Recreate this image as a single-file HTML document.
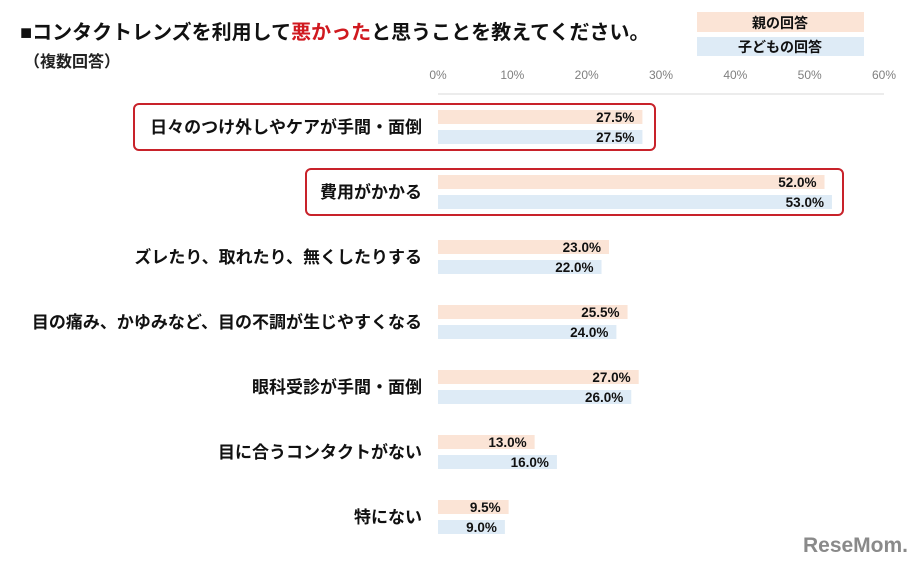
<!DOCTYPE html>
<html><head><meta charset="utf-8"><style>
body{margin:0;background:#fff;}
svg{display:block;font-family:"Liberation Sans","Noto Sans CJK JP",sans-serif;}
</style></head><body>
<svg id="chart" width="924" height="565">
<rect x="0" y="0" width="924" height="565" fill="#fff"/>
<text x="20" y="39" font-size="20" font-weight="bold" fill="#111">■コンタクトレンズを利用して<tspan fill="#d0191f">悪かった</tspan>と思うことを教えてください。</text>
<text x="24" y="67" font-size="16" font-weight="bold" fill="#222">（複数回答）</text>
<g>
<rect x="697" y="12" width="167" height="20" fill="#fbe4d6"/>
<text x="780" y="28" font-size="14" font-weight="bold" text-anchor="middle" fill="#111">親の回答</text>
<rect x="697" y="37" width="167" height="19" fill="#deebf6"/>
<text x="780" y="52" font-size="14" font-weight="bold" text-anchor="middle" fill="#111">子どもの回答</text>
</g>
<line x1="438" y1="94" x2="884" y2="94" stroke="#d9d9d9"/>
<g id="ticks"></g>
<g id="bars"></g>
<rect x="134" y="104" width="521" height="46" rx="5" fill="none" stroke="#c8222a" stroke-width="2"/>
<rect x="306" y="169" width="537" height="46" rx="5" fill="none" stroke="#c8222a" stroke-width="2"/>
<text x="908" y="552" font-size="21" font-weight="bold" text-anchor="end" fill="#8a8a8a">ReseMom.</text>
</svg>
<script>
const categories=["日々のつけ外しやケアが手間・面倒","費用がかかる","ズレたり、取れたり、無くしたりする","目の痛み、かゆみなど、目の不調が生じやすくなる","眼科受診が手間・面倒","目に合うコンタクトがない","特にない"];
const parentValues=[27.5,52.0,23.0,25.5,27.0,13.0,9.5];
const childValues=[27.5,53.0,22.0,24.0,26.0,16.0,9.0];
const tickValues=[0,10,20,30,40,50,60];
const NS="http://www.w3.org/2000/svg";
const x0=438,x1=884,maxV=60;
function xs(v){return x0+(x1-x0)*v/maxV;}
function rowY(i){return 127+65*i;}
function mk(tag,attrs,parent){const e=document.createElementNS(NS,tag);for(const k in attrs)e.setAttribute(k,attrs[k]);parent.appendChild(e);return e;}
const tg=document.getElementById('ticks');
tickValues.forEach(v=>{
 const t=mk('text',{x:xs(v),y:79,'font-size':12,'text-anchor':'middle',fill:'#7f7f7f'},tg);
 
 
 t.textContent=v+'%';
});
const bg=document.getElementById('bars');
categories.forEach((c,i)=>{
 const cy=rowY(i);
 const lab=mk('text',{x:422,y:cy+6,'font-size':17,'font-weight':'bold','text-anchor':'end',fill:'#111'},bg);
 
 
 lab.textContent=c;
 const b1=mk('rect',{x:x0,y:cy-17,width:xs(parentValues[i])-x0,height:14,fill:'#fbe4d6'},bg);
 
 
 const t1=mk('text',{x:xs(parentValues[i])-8,y:cy-5,'font-size':13.5,'font-weight':'bold','text-anchor':'end',fill:'#111'},bg);
 
 
 t1.textContent=parentValues[i].toFixed(1)+'%';
 const b2=mk('rect',{x:x0,y:cy+3,width:xs(childValues[i])-x0,height:14,fill:'#deebf6'},bg);
 
 
 const t2=mk('text',{x:xs(childValues[i])-8,y:cy+15,'font-size':13.5,'font-weight':'bold','text-anchor':'end',fill:'#111'},bg);
 
 
 t2.textContent=childValues[i].toFixed(1)+'%';
});
</script>
</body></html>
